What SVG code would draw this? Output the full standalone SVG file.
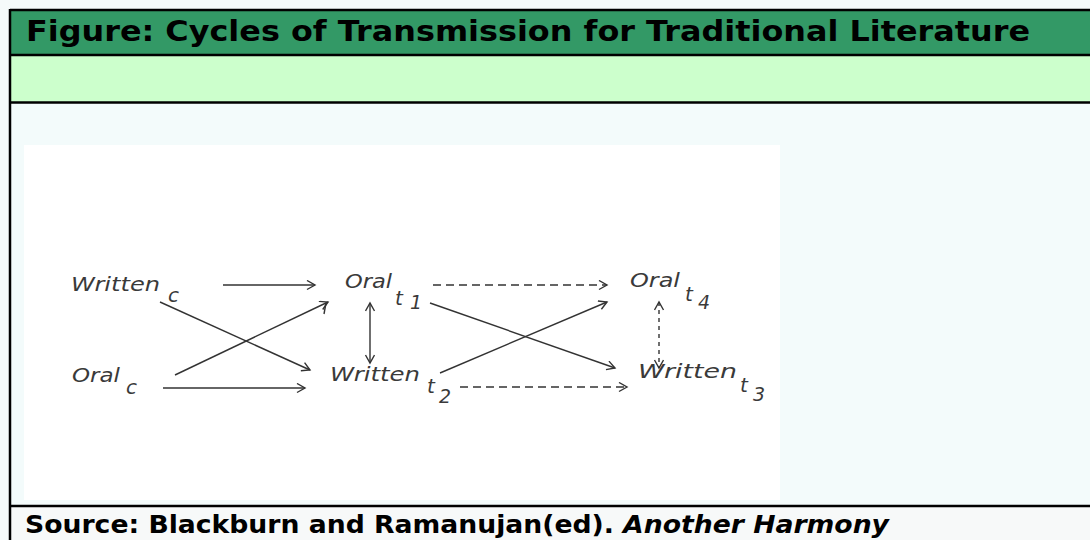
<svg xmlns="http://www.w3.org/2000/svg" width="1090" height="540" viewBox="0 0 1090 540">
  <style>
    .hdr { font-family: "DejaVu Sans", Verdana, sans-serif; font-weight: bold; fill: #000; }
    .lbl { font-family: "DejaVu Sans", Verdana, sans-serif; font-style: italic; fill: #3a3a3a; }
    .main { font-size: 20px; }
    .sub { font-size: 20px; }
    .sub2 { font-size: 19px; }
    .conn { stroke: #333; stroke-width: 1.4; fill: none; }
    .dash { stroke-dasharray: 8 5; }
    .dash2 { stroke-dasharray: 4 4; }
    .border { stroke: #000; stroke-width: 2.5; fill: none; }
  </style>
  <defs>
    <marker id="ah" markerUnits="userSpaceOnUse" markerWidth="12" markerHeight="12" refX="9" refY="5" orient="auto-start-reverse">
      <path d="M1,0.5 L9,5 L1,9.5" fill="none" stroke="#333" stroke-width="1.4"/>
    </marker>
  </defs>

  <!-- background -->
  <rect x="0" y="0" width="1090" height="540" fill="#f5fafa"/>
  <rect x="10" y="10" width="1080" height="45" fill="#339966"/>
  <rect x="10" y="55" width="1080" height="47" fill="#ccffcc"/>
  <rect x="10" y="103" width="1080" height="403" fill="#f3fbfb"/>
  <rect x="10" y="507" width="1080" height="33" fill="#f7f9f9"/>

  <!-- pasted figure area -->
  <rect x="24" y="145" width="756" height="355" fill="#ffffff"/>

  <!-- table borders -->
  <g id="table">
    <line class="border" x1="10" y1="10" x2="1090" y2="10"/>
    <line class="border" x1="10" y1="9" x2="10" y2="540"/>
    <line class="border" x1="10" y1="55" x2="1090" y2="55"/>
    <line class="border" x1="10" y1="102.5" x2="1090" y2="102.5"/>
    <line class="border" x1="10" y1="506" x2="1090" y2="506"/>
  </g>

  <g id="title">
    <text class="hdr" x="26" y="41" font-size="29" textLength="1004" lengthAdjust="spacingAndGlyphs">Figure: Cycles of Transmission for Traditional Literature</text>
  </g>

  <g id="source">
    <text class="hdr" x="25" y="533" font-size="24" textLength="864" lengthAdjust="spacingAndGlyphs">Source: Blackburn and Ramanujan(ed). <tspan font-style="italic">Another Harmony</tspan></text>
  </g>

  <!-- nodes -->
  <g id="written-c">
    <text class="lbl main" x="71" y="291" textLength="89" lengthAdjust="spacingAndGlyphs">Written</text>
    <text class="lbl sub" x="168" y="302">c</text>
  </g>
  <g id="oral-c">
    <text class="lbl main" x="72" y="382" textLength="48" lengthAdjust="spacingAndGlyphs">Oral</text>
    <text class="lbl sub" x="126" y="394">c</text>
  </g>
  <g id="oral-t1">
    <text class="lbl main" x="345" y="288" textLength="47" lengthAdjust="spacingAndGlyphs">Oral</text>
    <text class="lbl sub" x="395" y="305">t</text>
    <text class="lbl sub2" x="410" y="309">1</text>
  </g>
  <g id="written-t2">
    <text class="lbl main" x="330" y="381" textLength="90" lengthAdjust="spacingAndGlyphs">Written</text>
    <text class="lbl sub" x="427" y="393">t</text>
    <text class="lbl sub2" x="439" y="403">2</text>
  </g>
  <g id="oral-t4">
    <text class="lbl main" x="630" y="287" textLength="50" lengthAdjust="spacingAndGlyphs">Oral</text>
    <text class="lbl sub" x="685" y="301">t</text>
    <text class="lbl sub2" x="698" y="309">4</text>
  </g>
  <g id="written-t3">
    <text class="lbl main" x="638" y="378" textLength="99" lengthAdjust="spacingAndGlyphs">Written</text>
    <text class="lbl sub" x="740" y="392">t</text>
    <text class="lbl sub2" x="753" y="401">3</text>
  </g>

  <!-- connectors -->
  <g id="connectors">
    <line class="conn" x1="223" y1="285" x2="315" y2="285" marker-end="url(#ah)"/>
    <line class="conn" x1="160" y1="302" x2="310" y2="370" marker-end="url(#ah)"/>
    <line class="conn" x1="175" y1="375" x2="328" y2="302" marker-end="url(#ah)"/>
    <line class="conn" x1="326" y1="303" x2="324" y2="314"/>
    <line class="conn" x1="163" y1="388" x2="305" y2="388" marker-end="url(#ah)"/>
    <line class="conn dash" x1="433" y1="285" x2="607" y2="285" marker-end="url(#ah)"/>
    <line class="conn" x1="370" y1="303" x2="370" y2="363" marker-start="url(#ah)" marker-end="url(#ah)"/>
    <line class="conn" x1="430" y1="303" x2="615" y2="368" marker-end="url(#ah)"/>
    <line class="conn" x1="440" y1="373" x2="607" y2="302" marker-end="url(#ah)"/>
    <line class="conn dash" x1="460" y1="387" x2="627" y2="387" marker-end="url(#ah)"/>
    <line class="conn dash2" x1="659" y1="302" x2="659" y2="368" marker-start="url(#ah)" marker-end="url(#ah)"/>
  </g>
</svg>
